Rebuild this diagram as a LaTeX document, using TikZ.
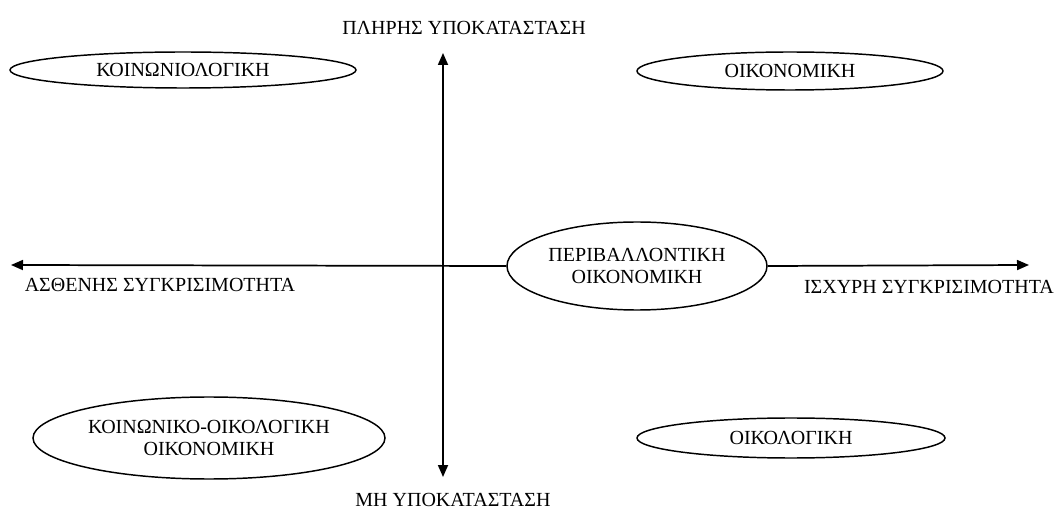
\documentclass[tikz,border=0pt]{standalone}
\usepackage{fontspec}
\setmainfont{Liberation Serif}
\usetikzlibrary{shapes.geometric,arrows.meta}
\begin{document}
\begin{tikzpicture}[x=0.75pt,y=-0.75pt,
  oval/.style={draw=black,line width=1.1pt,ellipse,inner sep=0pt,align=center,font=\fontsize{15}{17}\selectfont},
  lbl/.style={inner sep=0pt,font=\fontsize{15}{17}\selectfont},
  axis/.style={line width=1.3pt,-{Triangle[length=9pt,width=7.5pt]}}]
\useasboundingbox[fill=white] (0,0) rectangle (1054,513);
% ellipses
\node[oval,minimum width=259.5pt,minimum height=27pt] (koin) at (183,70) {ΚΟΙΝΩΝΙΟΛΟΓΙΚΗ};
\node[oval,minimum width=229.5pt,minimum height=28.5pt] (oik) at (790,71) {ΟΙΚΟΝΟΜΙΚΗ};
\node[oval,minimum width=195pt,minimum height=66pt] (per) at (637,266) {ΠΕΡΙΒΑΛΛΟΝΤΙΚΗ\\ΟΙΚΟΝΟΜΙΚΗ};
\node[oval,minimum width=264pt,minimum height=61.5pt] (koik) at (209,438) {ΚΟΙΝΩΝΙΚΟ-ΟΙΚΟΛΟΓΙΚΗ\\ΟΙΚΟΝΟΜΙΚΗ};
\node[oval,minimum width=231pt,minimum height=30pt] (ekol) at (791,438) {ΟΙΚΟΛΟΓΙΚΗ};
% axis labels
\node[lbl] (top) at (464,28) {ΠΛΗΡΗΣ ΥΠΟΚΑΤΑΣΤΑΣΗ};
\node[lbl] (bot) at (453,500) {ΜΗ ΥΠΟΚΑΤΑΣΤΑΣΗ};
\node[lbl] (left) at (160,285) {ΑΣΘΕΝΗΣ ΣΥΓΚΡΙΣΙΜΟΤΗΤΑ};
\node[lbl] (right) at (929,287) {ΙΣΧΥΡΗ ΣΥΓΚΡΙΣΙΜΟΤΗΤΑ};
% axes
\coordinate (ytop) at (443,53);
\coordinate (ybot) at (443,477);
\coordinate (xleft) at (11,265);
\coordinate (xright) at (1029,265);
\draw[axis,{Triangle[length=9pt,width=7.5pt]}-{Triangle[length=9pt,width=7.5pt]}] (ybot) -- (ytop);
\draw[axis] (per.west) -- (xleft);
\draw[axis] (per.east) -- (xright);
\end{tikzpicture}
\end{document}
